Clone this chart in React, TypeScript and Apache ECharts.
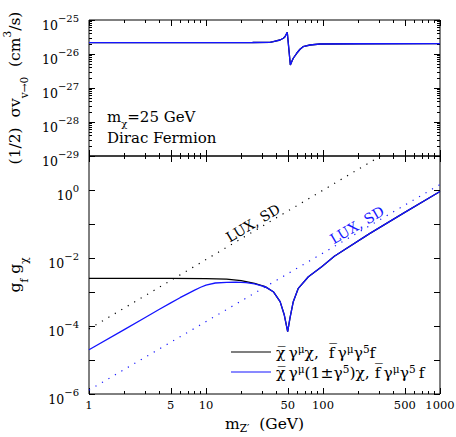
import React, { useEffect, useRef } from 'react';
import * as echarts from 'echarts';

// ---- data ----
const sigmaMass = [1, 10, 25, 35.2, 37.6, 42.9, 45.8, 47.3, 49.5, 52.6, 54, 55.7, 59.6, 63.6, 67.6, 77.5, 94, 200, 1000];
const sigmaValue = [2.15e-26, 2.15e-26, 2.18e-26, 2.21e-26, 2.3e-26, 2.58e-26, 2.9e-26, 3.23e-26, 4.35e-26, 4.75e-27, 5.9e-27, 7.5e-27, 1.05e-26, 1.38e-26, 1.64e-26, 1.84e-26, 1.97e-26, 2.0e-26, 2.01e-26];

const vectorMass = [1, 5, 10, 15, 20, 26, 32, 37.6, 43, 46.7, 49.9, 52.2, 55.7, 61.5, 75, 97.5, 125, 250, 500, 1000];
const vectorCoupling = [2.53e-3, 2.52e-3, 2.48e-3, 2.4e-3, 2.15e-3, 1.8e-3, 1.44e-3, 1.02e-3, 5.2e-4, 2.1e-4, 6.8e-5, 1.7e-4, 5.2e-4, 1.28e-3, 2.8e-3, 5.5e-3, 1.12e-2, 5.2e-2, 0.22, 0.9];

const axialMass = [1, 2, 3, 4, 5, 6, 7, 8, 9, 10, 12, 15, 18, 22, 26, 30];
const axialCoupling = [2e-5, 7.8e-5, 1.75e-4, 3.1e-4, 4.8e-4, 6.8e-4, 9.0e-4, 1.13e-3, 1.38e-3, 1.6e-3, 1.84e-3, 1.93e-3, 1.94e-3, 1.88e-3, 1.74e-3, 1.52e-3];

const luxVectorMass = [1, 311];
const luxVectorLimit = [8.2e-5, 10];
const luxAxialMass = [1, 1000];
const luxAxialLimit = [1.3e-6, 1.45];

const xTickLabels = [1, 5, 10, 50, 100, 500, 1000];
const topYExponents = [-29, -28, -27, -26, -25];
const bottomYExponents = [-6, -5, -4, -3, -2, -1, 0, 1];
const bottomYLabelExponents = [-6, -4, -2, 0];

// ---- helpers ----
const L = Math.log10;
const pts = (xs: number[], ys: number[]) => xs.map((x, i) => [L(x), L(ys[i])]);

const SERIF = "'DejaVu Serif', serif";
const BLUE = '#1414ff';

const xMajor = xTickLabels.map(L);
const xMinor: number[] = [];
[1, 10, 100].forEach((d) => [2, 3, 4, 6, 7, 8, 9].forEach((k) => xMinor.push(L(k * d))));
const topYMinor: number[] = [];
topYExponents.slice(0, -1).forEach((e) => [2, 3, 4, 5, 6, 7, 8, 9].forEach((k) => topYMinor.push(e + L(k))));

const axialFull = pts(axialMass, axialCoupling).concat(
  pts(vectorMass.filter((m) => m >= 32), vectorCoupling.filter((_, i) => vectorMass[i] >= 32))
);

const tickRich = {
  b: { fontSize: 12.5, fontFamily: SERIF, lineHeight: 18, verticalAlign: 'bottom', color: '#000' },
  s: { fontSize: 10, fontFamily: SERIF, lineHeight: 10, verticalAlign: 'top', color: '#000' },
};
const powLabel = (v: number) => {
  const e = Math.round(v);
  return `{b|10}{s|${e < 0 ? '\u2212' : ''}${Math.abs(e)}}`;
};

function xAx(grid: number, position: string, ticks: number[], len: number, extra: any = {}) {
  return {
    type: 'value', gridIndex: grid, position, min: 0, max: 3,
    axisLine: { show: false, onZero: false }, splitLine: { show: false },
    axisTick: { show: true, inside: true, length: len, customValues: ticks, lineStyle: { color: '#000', width: 1 } },
    axisLabel: { show: false },
    ...extra,
  };
}
function yAx(grid: number, position: string, min: number, max: number, ticks: number[], len: number, extra: any = {}) {
  return {
    type: 'value', gridIndex: grid, position, min, max,
    axisLine: { show: false, onZero: false }, splitLine: { show: false },
    axisTick: { show: true, inside: true, length: len, customValues: ticks, lineStyle: { color: '#000', width: 1 } },
    axisLabel: { show: false },
    ...extra,
  };
}

const nameRich = {
  n: { fontSize: 15.5, fontFamily: SERIF, lineHeight: 28, color: '#000' },
  sub: { fontSize: 10.5, fontFamily: SERIF, lineHeight: 17, verticalAlign: 'bottom', color: '#000' },
  sup: { fontSize: 10.5, fontFamily: SERIF, lineHeight: 10, verticalAlign: 'top', color: '#000' },
};

const legendRich = {
  n: { fontSize: 15.5, fontFamily: SERIF, lineHeight: 18, verticalAlign: 'bottom', color: '#000' },
  s: { fontSize: 10.5, fontFamily: SERIF, lineHeight: 10, verticalAlign: 'top', color: '#000' },
};

const option: any = {
  animation: false,
  backgroundColor: '#fff',
  grid: [
    { left: 89, top: 20, width: 351, height: 136, show: true, borderColor: '#000', borderWidth: 1, containLabel: false, outerBoundsMode: 'none' },
    { left: 89, top: 156, width: 351, height: 238, show: true, borderColor: '#000', borderWidth: 1, containLabel: false, outerBoundsMode: 'none' },
  ],
  xAxis: [
    xAx(0, 'bottom', xMajor, 6),
    xAx(0, 'bottom', xMinor, 3),
    xAx(0, 'top', xMajor, 6),
    xAx(0, 'top', xMinor, 3),
    xAx(1, 'bottom', xMajor, 6, {
      axisLabel: {
        show: true, customValues: xMajor, margin: 5, color: '#000', fontFamily: SERIF, fontSize: 11.5,
        formatter: (v: number) => String(Math.round(Math.pow(10, v))),
      },
      name: '{n|m}{sub|Z\u2032}{n|  (GeV)}',
      nameLocation: 'middle', nameGap: 17,
      nameTextStyle: {
        rich: {
          n: { fontSize: 15.5, fontFamily: SERIF, lineHeight: 20, color: '#000' },
          sub: { fontSize: 10.5, fontFamily: SERIF, lineHeight: 12, verticalAlign: 'bottom', color: '#000' },
        },
      },
    }),
    xAx(1, 'bottom', xMinor, 3),
    xAx(1, 'top', xMajor, 6),
    xAx(1, 'top', xMinor, 3),
  ],
  yAxis: [
    yAx(0, 'left', -29, -25, topYExponents, 6, {
      axisLabel: { show: true, customValues: topYExponents, margin: 10, formatter: powLabel, rich: tickRich, padding: [5, 0, 0, 0] },
      name: '{n|(1/2)  \u03c3v}{sub|v\u21920}{n|  (cm}{sup|3}{n|/s)}',
      nameLocation: 'middle', nameGap: 60, nameRotate: 90,
      nameTextStyle: { rich: nameRich },
    }),
    yAx(0, 'left', -29, -25, topYMinor, 3),
    yAx(0, 'right', -29, -25, topYExponents, 6),
    yAx(0, 'right', -29, -25, topYMinor, 3),
    yAx(1, 'left', -6, 1, bottomYExponents, 6, {
      axisLabel: { show: true, customValues: bottomYLabelExponents, margin: 10, formatter: powLabel, rich: tickRich, padding: [5, 0, 0, 0] },
      name: '{n|g}{sub|f}{n| g}{sub|\u03c7}',
      nameLocation: 'middle', nameGap: 60, nameRotate: 90,
      nameTextStyle: { rich: nameRich },
    }),
    yAx(1, 'right', -6, 1, bottomYExponents, 6),
  ],
  legend: {
    orient: 'vertical', left: 231, top: 343, padding: 0, itemWidth: 40, itemHeight: 1, itemGap: 2,
    icon: 'rect',
    data: ['vector', 'axial'],
    formatter: (name: string) =>
      name === 'vector'
        ? '{n|\u03c7\u0305\u2009\u03b3}{s|\u03bc}{n|\u03c7,  f\u0305\u2009\u03b3}{s|\u03bc}{n|\u03b3}{s|5}{n|f}'
        : '{n|\u03c7\u0305\u2009\u03b3}{s|\u03bc}{n|(1\u00b1\u03b3}{s|5}{n|)\u03c7, f\u0305\u2009\u03b3}{s|\u03bc}{n|\u03b3}{s|5}{n|\u2009f}',
    textStyle: { color: '#000', fontFamily: SERIF, fontSize: 15.5, rich: legendRich },
  },
  series: [
    { name: 'σv vector', type: 'line', xAxisIndex: 0, yAxisIndex: 0, data: pts(sigmaMass, sigmaValue), symbol: 'none', lineStyle: { color: '#000', width: 1.3 }, itemStyle: { color: '#000' } },
    { name: 'σv axial', type: 'line', xAxisIndex: 0, yAxisIndex: 0, data: pts(sigmaMass, sigmaValue), symbol: 'none', lineStyle: { color: BLUE, width: 1.3 }, itemStyle: { color: BLUE } },
    { name: 'LUX SD vector', type: 'line', xAxisIndex: 4, yAxisIndex: 4, data: pts(luxVectorMass, luxVectorLimit), symbol: 'none', lineStyle: { color: '#000', width: 1.2, type: [1.2, 6.3] } },
    { name: 'LUX SD axial', type: 'line', xAxisIndex: 4, yAxisIndex: 4, data: pts(luxAxialMass, luxAxialLimit), symbol: 'none', lineStyle: { color: BLUE, width: 1.2, type: [1.2, 6.3] } },
    { name: 'vector', type: 'line', xAxisIndex: 4, yAxisIndex: 4, data: pts(vectorMass, vectorCoupling), symbol: 'none', lineStyle: { color: '#000', width: 1.3 }, itemStyle: { color: '#000' } },
    { name: 'axial', type: 'line', xAxisIndex: 4, yAxisIndex: 4, data: axialFull, symbol: 'none', lineStyle: { color: BLUE, width: 1.3 }, itemStyle: { color: BLUE } },
  ],
  graphic: [
    {
      type: 'text', x: 107, y: 117,
      style: {
        text: '{n|m}{sub|\u03c7}{n|=25 GeV}', verticalAlign: 'middle', align: 'left',
        rich: {
          n: { fontSize: 15, fontFamily: SERIF, lineHeight: 22, fill: '#000' },
          sub: { fontSize: 10, fontFamily: SERIF, lineHeight: 14, verticalAlign: 'bottom', fill: '#000' },
        },
      },
    },
    { type: 'text', x: 107, y: 138, style: { text: 'Dirac Fermion', fontSize: 15, fontFamily: SERIF, fill: '#000', verticalAlign: 'middle', align: 'left' } },
    { type: 'text', x: 253, y: 223, rotation: 0.54, style: { text: 'LUX, SD', fontSize: 14, fontFamily: SERIF, fill: '#000', verticalAlign: 'middle', align: 'center' } },
    { type: 'text', x: 357, y: 225, rotation: 0.53, style: { text: 'LUX, SD', fontSize: 14, fontFamily: SERIF, fill: BLUE, verticalAlign: 'middle', align: 'center' } },
  ],
};

export default function App() {
  const ref = useRef<HTMLDivElement>(null);
  useEffect(() => {
    const chart = echarts.init(ref.current!, null, { renderer: 'svg' });
    chart.setOption(option);
    return () => chart.dispose();
  }, []);
  return <div ref={ref} style={{ position: 'absolute', left: 0, top: 0, width: 456, height: 437 }} />;
}
